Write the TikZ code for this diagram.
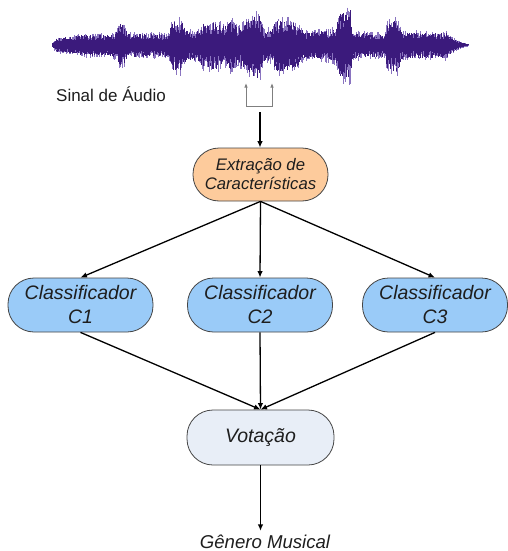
\documentclass[tikz,border=0pt]{standalone}
\usepackage{fontspec}
\setmainfont{Liberation Sans}
\usetikzlibrary{arrows.meta}

\definecolor{wavedark}{HTML}{3B1A7C}
\definecolor{wavelight}{HTML}{8A74C0}
\definecolor{extfill}{HTML}{FDCB9C}
\definecolor{clsfill}{HTML}{9ACBF8}
\definecolor{votfill}{HTML}{E8EEF7}
\definecolor{boxline}{HTML}{454545}
\definecolor{bracketgray}{HTML}{7F7F7F}
\definecolor{txt}{HTML}{1E1E1E}

\begin{document}
\begin{tikzpicture}[x=1pt,y=-1pt,
  stadium/.style={draw=boxline, line width=0.8pt, rounded corners=26pt,
    inner sep=0pt, align=center, text=txt},
  extbox/.style={stadium, fill=extfill, minimum width=135pt, minimum height=53pt,
    font=\fontsize{16.7}{19}\selectfont\itshape},
  clsbox/.style={stadium, fill=clsfill, minimum width=145pt, minimum height=54pt,
    font=\fontsize{19.5}{24}\selectfont\itshape},
  votbox/.style={stadium, fill=votfill, minimum width=147pt, minimum height=55pt,
    font=\fontsize{19.5}{24}\selectfont\itshape},
  flow/.style={line width=1.3pt, -{Latex[length=6.5pt,width=5.5pt]}},
  window/.style={draw=bracketgray, line width=1pt,
    {Latex[length=4.5pt,width=3.5pt]}-{Latex[length=4.5pt,width=3.5pt]}},
]
\useasboundingbox (0,0) rectangle (508,551);

% audio waveform: vertical strokes under a piecewise linear envelope
\pgfmathsetseed{4242}
\foreach \xa/\aa/\xb/\ab in {
  52/2/56/8, 56/8/75/10, 75/10/80/12, 80/12/110/12, 110/12/116/15,
  116/15/120/25, 120/25/124/23, 124/23/128/13, 128/13/168/13,
  168/13/172/27, 172/27/182/29, 182/29/186/17, 186/17/198/17,
  198/17/202/25, 202/25/215/27, 215/27/225/23, 225/23/232/29,
  232/29/238/21, 238/21/244/25, 244/25/250/31, 250/31/256/37,
  256/37/260/35, 260/35/264/17, 264/17/272/19, 272/19/276/29,
  276/29/290/29, 290/29/298/23, 298/23/304/15, 304/15/330/17,
  330/17/336/21, 336/21/340/39, 340/39/350/41, 350/41/353/15,
  353/15/384/13, 384/13/388/27, 388/27/398/29, 398/29/402/15,
  402/15/440/14, 440/14/446/15, 446/15/452/8, 452/8/460/4, 460/4/468/1}{
  \pgfmathtruncatemacro\nn{max(1,(\xb-\xa)/0.6)}
  \foreach \i in {1,...,\nn}{
    \pgfmathsetmacro\px{\xa+(\xb-\xa)*\i/\nn}
    \pgfmathsetmacro\ee{\aa+(\ab-\aa)*\i/\nn}
    \pgfmathsetmacro\du{\ee*(0.4+0.45*rnd)}
    \pgfmathsetmacro\dd{1.08*\ee*(0.4+0.45*rnd)}
    \pgfmathsetmacro\lu{max(\du,\ee*(0.55+0.45*rnd^2))}
    \pgfmathsetmacro\ld{max(\dd,1.08*\ee*(0.55+0.45*rnd^2))}
    \draw[wavelight, line width=0.6pt] (\px,45-\lu) -- (\px,45-\du);
    \draw[wavelight, line width=0.6pt] (\px,45+\dd) -- (\px,45+\ld);
    \draw[wavedark, line width=0.8pt] (\px,45-\du) -- (\px,45+\dd);
  }
}

\node[anchor=base, text=txt, font=\fontsize{17}{20}\selectfont] (sinal) at (111,101) {Sinal de Áudio};

% analysis window under the signal
\coordinate (wl) at (246,83);
\coordinate (wr) at (272,83);
\coordinate (wbase) at (259,106);
\coordinate (src) at (260,112);
\draw[window] (wl) -- (wl |- wbase) -- (wr |- wbase) -- (wr);

% processing blocks
\node[extbox] (ext) at (260.5,174.5) {Extração de\\Características};
\node[clsbox] (c1) at (80.5,305) {Classificador\\C1};
\node[clsbox] (c2) at (260,305) {Classificador\\C2};
\node[clsbox] (c3) at (435,305) {Classificador\\C3};
\node[votbox] (vot) at (260.5,437.5) {Votação};
\node[anchor=base, text=txt, font=\fontsize{18.6}{22}\selectfont\itshape] (gen) at (265,548) {Gênero Musical};

% connectors
\draw[flow] (src) -- (src |- ext.north);
\draw[flow] (ext.south) -- (c1.north);
\draw[flow] (ext.south) -- (c2.north);
\draw[flow] (ext.south) -- (c3.north);
\draw[flow] (c1.south) -- (vot.north);
\draw[flow] (c2.south) -- (vot.north);
\draw[flow] (c3.south) -- (vot.north);
\draw[flow] (vot.south) -- (vot.south |- gen.north);
\end{tikzpicture}
\end{document}
